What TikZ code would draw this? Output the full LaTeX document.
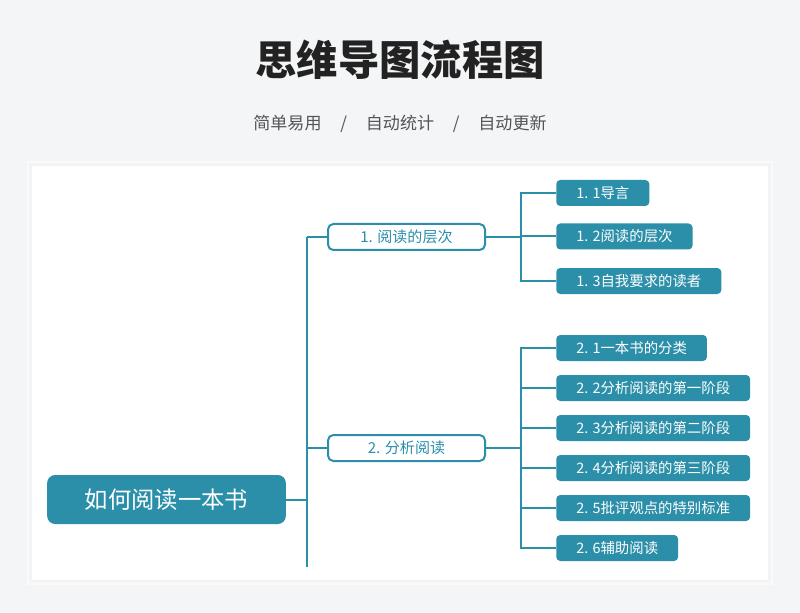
\documentclass[tikz,border=0pt]{standalone}
\usepackage{fontspec}
\setmainfont{Noto Sans CJK SC}
\usetikzlibrary{positioning}

\definecolor{teal}{HTML}{2B8FA9}
\definecolor{pagebg}{HTML}{F4F5F7}
\definecolor{titlegray}{HTML}{222222}
\definecolor{subgray}{HTML}{555555}

\begin{document}
\begin{tikzpicture}[x=0.75pt,y=-0.75pt,
    link/.style={draw=teal,line width=1.5pt},
    rootbox/.style={fill=teal,rounded corners=6pt,text=white,font=\fontsize{17.5}{20}\selectfont,
        minimum width=179pt,minimum height=36.75pt,inner sep=0pt},
    branchbox/.style={draw=teal,fill=white,line width=1.5pt,rounded corners=4pt,text=teal,
        font=\fontsize{11.3}{13}\selectfont,minimum width=117.75pt,minimum height=19.5pt,inner sep=0pt},
    leafbox/.style={fill=teal,rounded corners=3pt,text=white,font=\fontsize{10.8}{12}\selectfont,
        minimum height=19.5pt,inner ysep=0pt,inner xsep=15pt,anchor=west}]
    % Page and panel
    \useasboundingbox (0,0) rectangle (800,613);
    \fill[pagebg] (0,0) rectangle (800,613);
    \fill[black!2] (27,161) rectangle (773,585);
    \fill[black!4] (29,163) rectangle (771,583);
    \fill[black!5] (31,165) rectangle (769,581);
    \fill[white] (32,166) rectangle (768,580);
    % Title
    \node (title) at (400,60) {\fontsize{31}{36}\selectfont\bfseries\color{titlegray}思维导图流程图};
    \node (subtitle) at (400,124) {\fontsize{12.8}{15}\selectfont\color{subgray}简单易用\hspace{1.1em}/\hspace{1.1em}自动统计\hspace{1.1em}/\hspace{1.1em}自动更新};
    % Root and branches
    \node[rootbox] (root) at (166.5,499.5) {如何阅读一本书};
    \node[branchbox] (b1) at (406.5,237) {1. 阅读的层次};
    \node[branchbox] (b2) at (406.5,448) {2. 分析阅读};
    \coordinate (trunktop) at (307,237);
    \coordinate (trunkbot) at (307,567);
    % Leaves of branch 1
    \node[leafbox] (l11) at (556,193) {1. 1导言};
    \node[leafbox] (l12) at (556,236.5) {1. 2阅读的层次};
    \node[leafbox] (l13) at (556,281) {1. 3自我要求的读者};
    % Leaves of branch 2
    \node[leafbox] (l21) at (556,348) {2. 1一本书的分类};
    \node[leafbox] (l22) at (556,388) {2. 2分析阅读的第一阶段};
    \node[leafbox] (l23) at (556,428) {2. 3分析阅读的第二阶段};
    \node[leafbox] (l24) at (556,468) {2. 4分析阅读的第三阶段};
    \node[leafbox] (l25) at (556,508) {2. 5批评观点的特别标准};
    \node[leafbox] (l26) at (556,548) {2. 6辅助阅读};
    % Connectors
    \draw[link] (trunktop) -- (trunkbot);
    \draw[link] (root.east) -- (root.east -| trunktop);
    \draw[link] (trunktop) -- (b1.west);
    \draw[link] (b2.west -| trunktop) -- (b2.west);
    \foreach \leaf in {l11,l12,l13}
        \draw[link] (b1.east) -- ++(35,0) |- (\leaf.west);
    \foreach \leaf in {l21,l22,l23,l24,l25,l26}
        \draw[link] (b2.east) -- ++(35,0) |- (\leaf.west);
\end{tikzpicture}
\end{document}
